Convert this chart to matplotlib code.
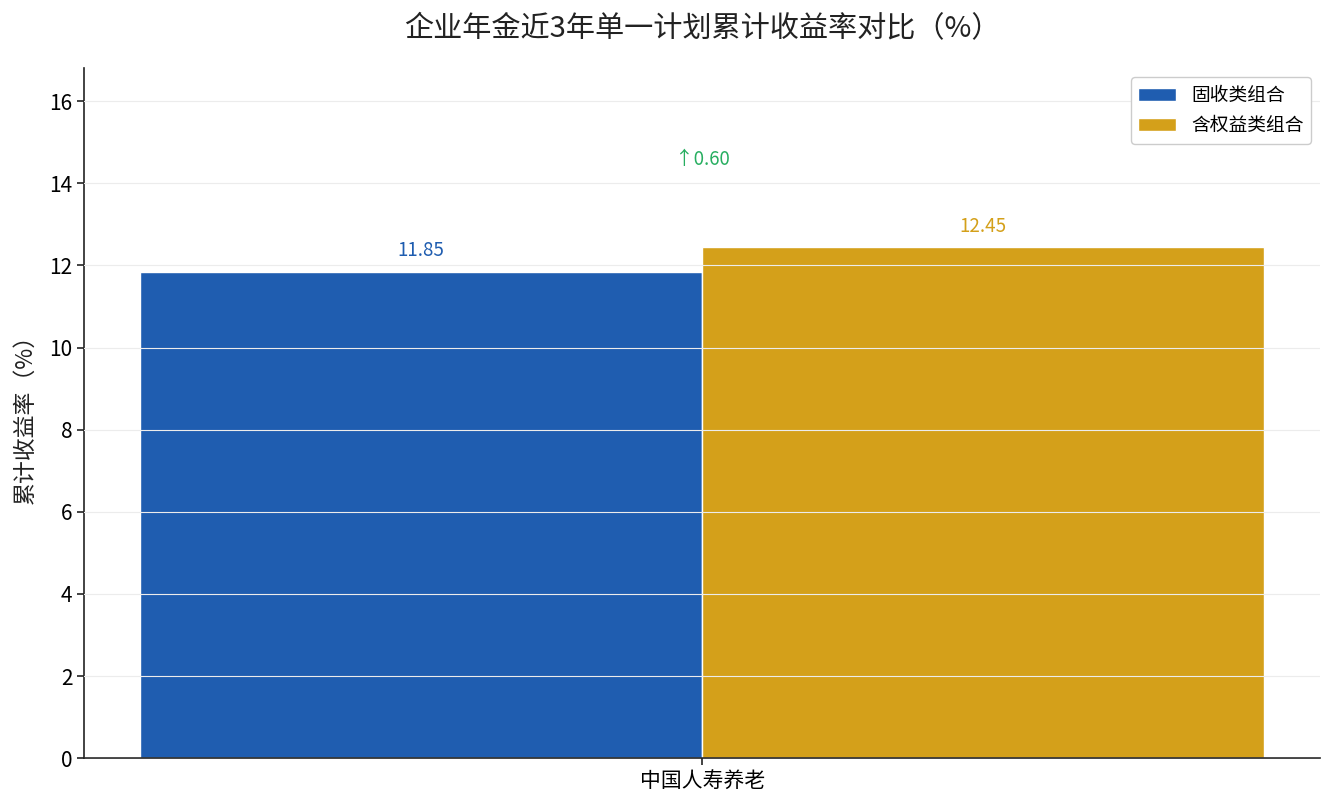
import matplotlib
matplotlib.use('Agg')
import matplotlib.pyplot as plt
import numpy as np

plt.rcParams['font.family'] = ['Noto Sans CJK SC', 'DejaVu Sans']
plt.rcParams['axes.unicode_minus'] = False

# Data
categories = ['中国人寿养老']
series_names = ['固收类组合', '含权益类组合']
fixed_income = [11.85]
equity = [12.45]
colors = ['#1f5db0', '#d4a01a']

x = np.arange(len(categories))
width = 0.35

fig, ax = plt.subplots(figsize=(13.35, 8.1), dpi=100)

b1 = ax.bar(x - width / 2, fixed_income, width, color=colors[0], edgecolor='white',
            linewidth=1, label=series_names[0])
b2 = ax.bar(x + width / 2, equity, width, color=colors[1], edgecolor='white',
            linewidth=1, label=series_names[1])

# Value labels
for bars, vals, c in [(b1, fixed_income, colors[0]), (b2, equity, colors[1])]:
    for bar, v in zip(bars, vals):
        ax.text(bar.get_x() + bar.get_width() / 2, v + 0.25, f'{v:.2f}',
                ha='center', va='bottom', fontsize=13.5, color=c)

# Difference annotation
for i in range(len(categories)):
    diff = equity[i] - fixed_income[i]
    arrow = '↑' if diff >= 0 else '↓'
    ax.text(x[i], max(equity[i], fixed_income[i]) * 1.15, f'{arrow}{abs(diff):.2f}',
            ha='center', va='bottom', fontsize=13.5, color='#27ae60')

ax.set_ylim(0, max(max(fixed_income), max(equity)) * 1.35)
ax.set_xticks(x)
ax.set_xticklabels(categories, fontsize=15)
ax.tick_params(axis='both', labelsize=15, length=5, width=1.2, color='#222222')
ax.set_ylabel('累计收益率（%）', fontsize=16.5, labelpad=9, color='#222222')
ax.set_title('企业年金近3年单一计划累计收益率对比（%）', fontsize=21, pad=22,
             color='#222222')

ax.yaxis.grid(True, color='#ececec', linewidth=0.8)
ax.set_axisbelow(False)
ax.spines['top'].set_visible(False)
ax.spines['right'].set_visible(False)
for s in ['left', 'bottom']:
    ax.spines[s].set_linewidth(1.2)
    ax.spines[s].set_color('#222222')

ax.legend(loc='upper right', fontsize=13.5, framealpha=1, edgecolor='#cccccc')

plt.subplots_adjust(left=0.063, right=0.989, top=0.916, bottom=0.064)
plt.savefig('out.png', dpi=100)
